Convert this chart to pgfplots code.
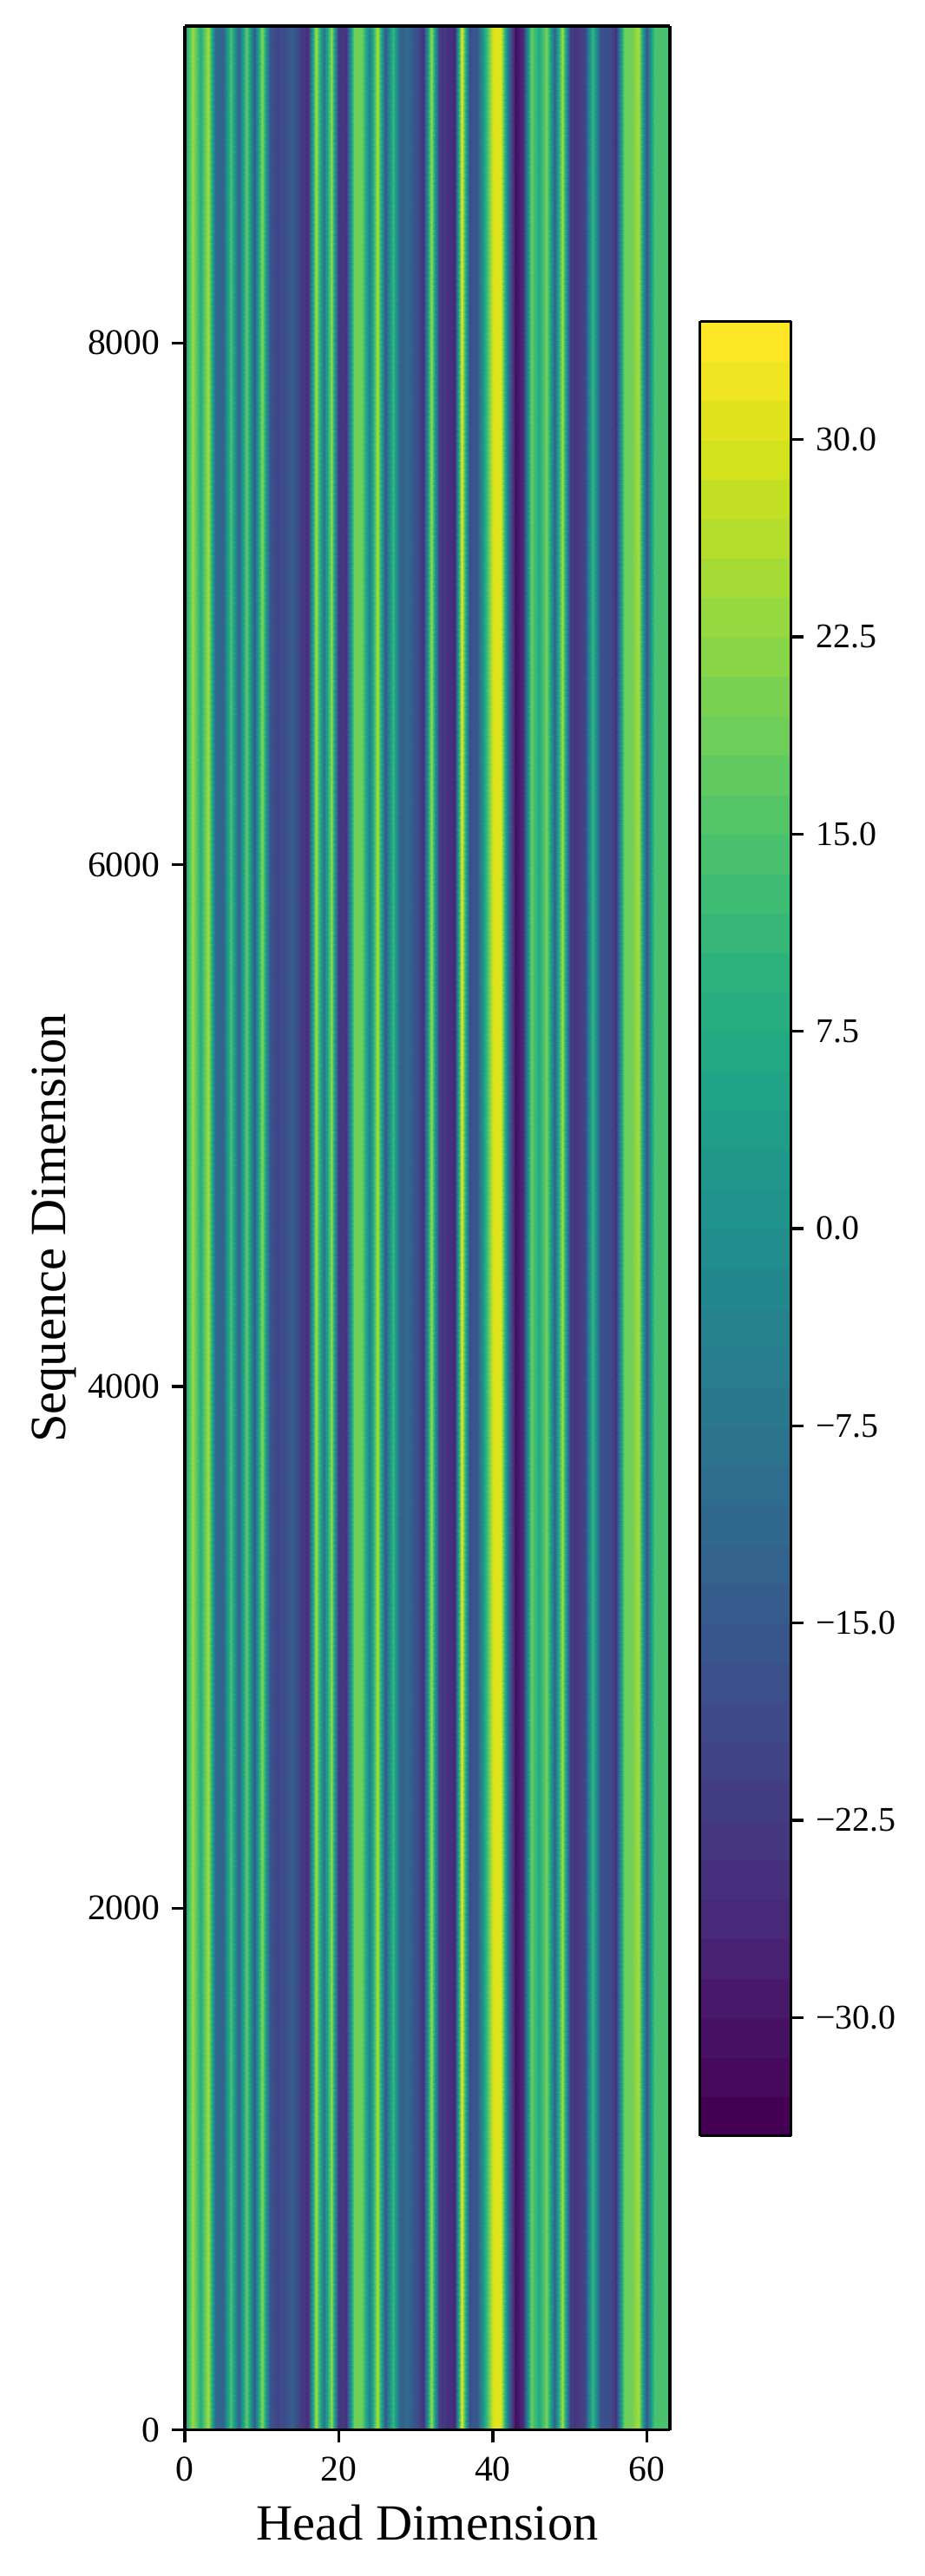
\documentclass[border=0pt]{standalone}
\usepackage{fontspec}
\setmainfont{Liberation Serif}
\usepackage{pgfplots}
\usepackage{pgfplotstable}
\pgfplotsset{compat=1.18}

% column profile: head dimension, value
\pgfplotstableread{
x y z
0 0 3
1 0 24
2 0 8
3 0 25
4 0 -10
5 0 -13
6 0 15
7 0 -13
8 0 18
9 0 -14
10 0 22
11 0 -16
12 0 -20
13 0 -18
14 0 -13
15 0 -22
16 0 -25
17 0 25
18 0 -8
19 0 23
20 0 -23
21 0 -24
22 0 19
23 0 19
24 0 -5
25 0 26
26 0 -15
27 0 12
28 0 -13
29 0 -11
30 0 -17
31 0 -24
32 0 24
33 0 -22
34 0 -24
35 0 -26
36 0 32
37 0 -17
38 0 -15
39 0 8
40 0 30
41 0 31
42 0 -10
43 0 -32
44 0 -25
45 0 18
46 0 7
47 0 20
48 0 -12
49 0 25
50 0 -22
51 0 -23
52 0 -20
53 0 12
54 0 -17
55 0 -17
56 0 -24
57 0 18
58 0 19
59 0 25
60 0 -16
61 0 15
62 0 15
63 0 13
0 9215 3
1 9215 24
2 9215 8
3 9215 25
4 9215 -10
5 9215 -13
6 9215 15
7 9215 -13
8 9215 18
9 9215 -14
10 9215 22
11 9215 -16
12 9215 -20
13 9215 -18
14 9215 -13
15 9215 -22
16 9215 -25
17 9215 25
18 9215 -8
19 9215 23
20 9215 -23
21 9215 -24
22 9215 19
23 9215 19
24 9215 -5
25 9215 26
26 9215 -15
27 9215 12
28 9215 -13
29 9215 -11
30 9215 -17
31 9215 -24
32 9215 24
33 9215 -22
34 9215 -24
35 9215 -26
36 9215 32
37 9215 -17
38 9215 -15
39 9215 8
40 9215 30
41 9215 31
42 9215 -10
43 9215 -32
44 9215 -25
45 9215 18
46 9215 7
47 9215 20
48 9215 -12
49 9215 25
50 9215 -22
51 9215 -23
52 9215 -20
53 9215 12
54 9215 -17
55 9215 -17
56 9215 -24
57 9215 18
58 9215 19
59 9215 25
60 9215 -16
61 9215 15
62 9215 15
63 9215 13
}\heatdata

\begin{document}
\begin{tikzpicture}
\path[use as bounding box] (-53.25bp,-42.08bp) rectangle (213.25bp,700.18bp);
\begin{axis}[
    at={(0,0)}, anchor=south west,
    scale only axis,
    width=139.75bp, height=692.7bp,
    view={0}{90},
    xmin=0, xmax=63, ymin=0, ymax=9215,
    xtick={0,20,40,60},
    ytick={0,2000,4000,6000,8000},
    tick align=outside,
    tick pos=left,
    axis line style={line width=0.83bp},
    every tick/.style={black, line width=0.83bp},
    major tick length=3.65bp,
    axis on top,
    font=\fontsize{10.4bp}{12bp}\selectfont,
    /pgf/number format/assume math mode=true,
    /pgf/number format/1000 sep={},
    xticklabel style={yshift=-0.5bp},
    xlabel={Head Dimension},
    ylabel={Sequence Dimension},
    xlabel style={font=\fontsize{14.6bp}{16bp}\selectfont, at={(axis description cs:0.5,0)}, anchor=base, yshift=-31.7bp},
    ylabel style={font=\fontsize{14.6bp}{16bp}\selectfont, at={(axis description cs:0,0.5)}, anchor=base, yshift=34.3bp},
    colormap/viridis,
    colormap={bands}{samples of colormap=(46 of viridis)},
    colormap access=piecewise constant,
    point meta min=-34.5, point meta max=34.5,
    colorbar sampled,
    colorbar style={
        at={(parent axis.south east)}, anchor=south west,
        xshift=0.2bp, yshift=84.75bp,
        scale only axis,
        width=26.25bp, height=522.9bp,
        samples=47,
        ytick={-30,-22.5,-15,-7.5,0,7.5,15,22.5,30},
        yticklabels={−30.0,−22.5,−15.0,−7.5,0.0,7.5,15.0,22.5,30.0},
        ytick pos=right, yticklabel pos=right,
        tick align=outside,
        axis line style={line width=0.83bp},
        every tick/.style={black, line width=0.83bp},
        major tick length=3.65bp,
    },
]
% the stripes do not change along the sequence, so one profile is stacked in short pieces
\pgfplotsinvokeforeach{0,...,47}{
\addplot3[surf, shader=interp, mesh/cols=64, point meta=\thisrow{z}]
    table[x=x, y expr={#1*9215/48+\thisrow{y}/48}, z=z] {\heatdata};
}
\end{axis}
\end{tikzpicture}
\end{document}
